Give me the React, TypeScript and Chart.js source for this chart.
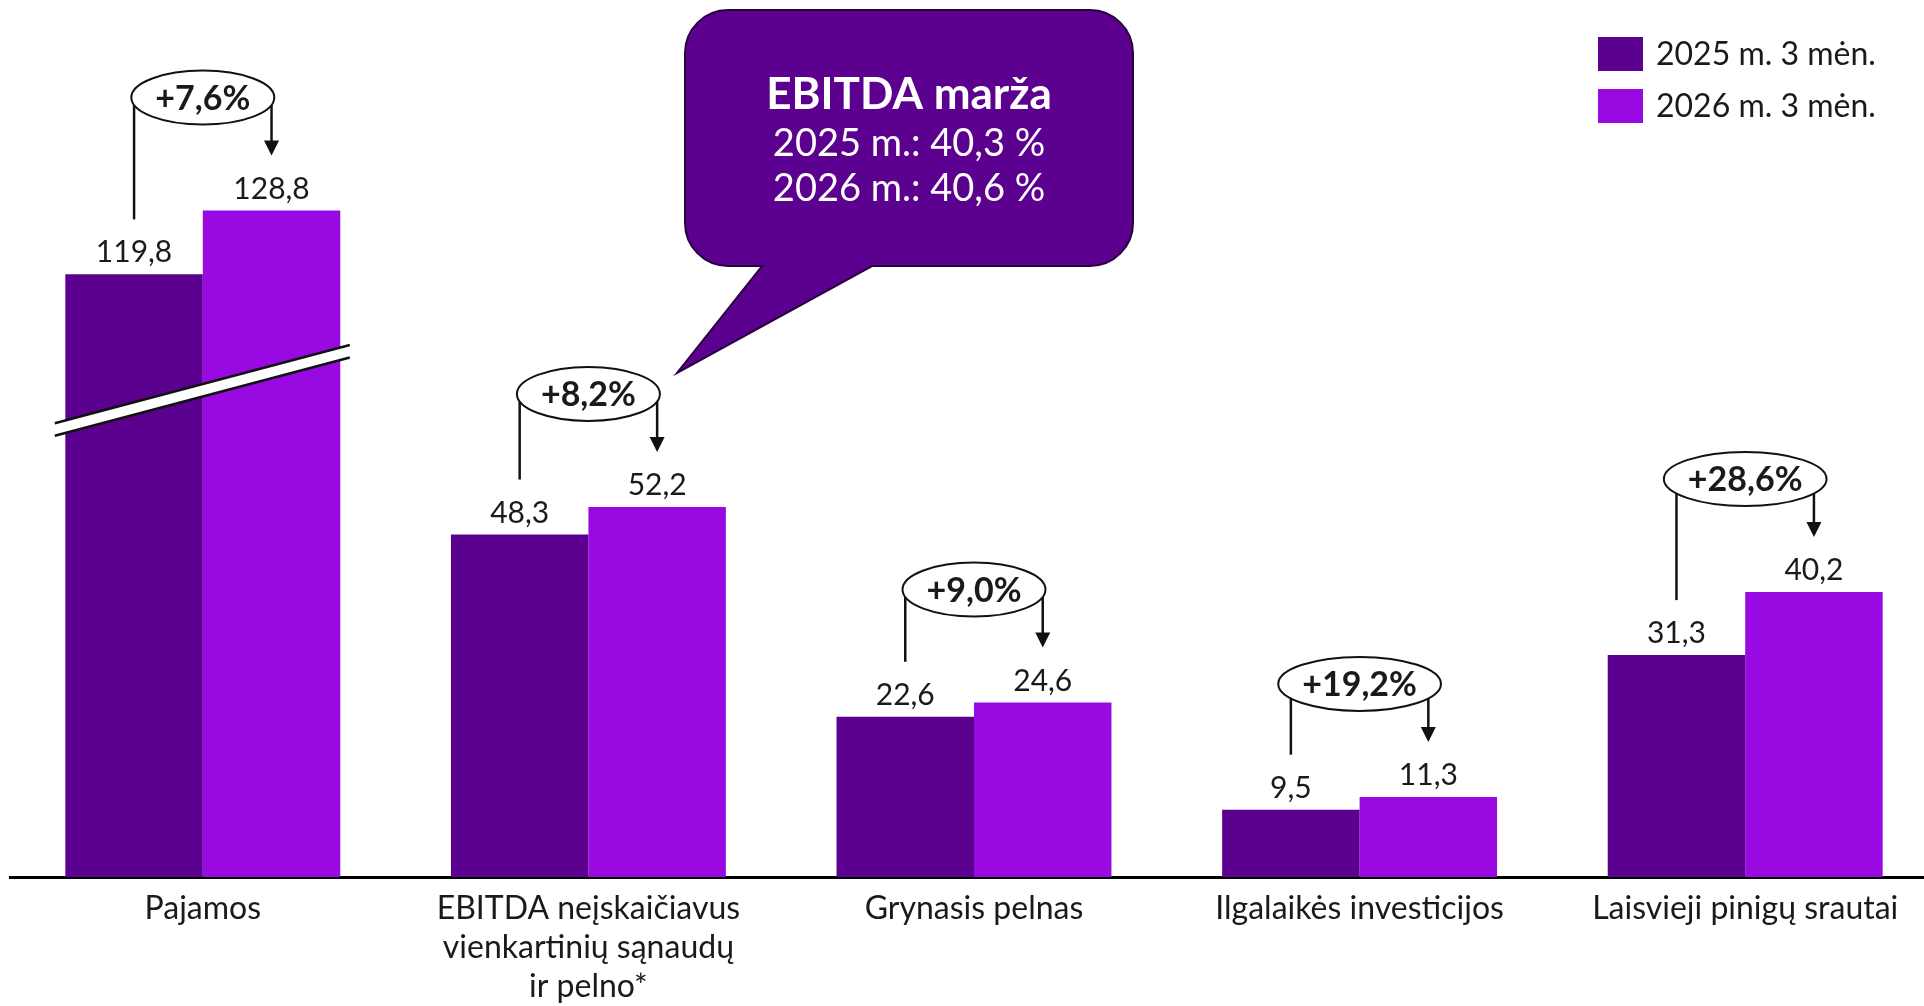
import React, { useEffect, useRef } from "react";
import { Chart, registerables } from "chart.js";

Chart.register(...registerables);

const categories: string[][] = [
  ["Pajamos"],
  ["EBITDA neįskaičiavus", "vienkartinių sąnaudų", "ir pelno*"],
  ["Grynasis pelnas"],
  ["Ilgalaikės investicijos"],
  ["Laisvieji pinigų srautai"],
];
const seriesNames = ["2025 m. 3 mėn.", "2026 m. 3 mėn."];
const series2025 = [119.8, 48.3, 22.6, 9.5, 31.3];
const series2026 = [128.8, 52.2, 24.6, 11.3, 40.2];
const changeLabels = ["+7,6%", "+8,2%", "+9,0%", "+19,2%", "+28,6%"];
const brokenCategory = 0;
const breakOffset = 34.8;
const calloutTitle = "EBITDA marža";
const calloutLines = ["2025 m.: 40,3 %", "2026 m.: 40,6 %"];

const DARK = "#5B008F";
const LIGHT = "#990AE3";
const TEXT = "#1a1a1a";
const FONT = "Lato";

const plotValues = (arr: number[]) =>
  arr.map((v, i) => (i === brokenCategory ? v - breakOffset : v));
const fmt = (v: number) => v.toFixed(1).replace(".", ",");

const overlayPlugin = {
  id: "overlay",
  afterDatasetsDraw(chart: any) {
    const ctx: CanvasRenderingContext2D = chart.ctx;
    const xScale = chart.scales.x;
    const m0 = chart.getDatasetMeta(0).data;
    const m1 = chart.getDatasetMeta(1).data;
    ctx.save();

    // axis break band on the broken category
    {
      const cx = xScale.getPixelForValue(brokenCategory);
      const x1 = cx - 148;
      const x2 = cx + 147;
      const slope = -0.265;
      const cy = 384;
      const gap = 12.5;
      const yAt = (x: number, off: number) => cy + off + slope * (x - cx);
      ctx.beginPath();
      ctx.moveTo(x1, yAt(x1, 0));
      ctx.lineTo(x2, yAt(x2, 0));
      ctx.lineTo(x2, yAt(x2, gap));
      ctx.lineTo(x1, yAt(x1, gap));
      ctx.closePath();
      ctx.fillStyle = "#ffffff";
      ctx.fill();
      ctx.strokeStyle = "#111";
      ctx.lineWidth = 2.5;
      ctx.beginPath();
      ctx.moveTo(x1, yAt(x1, 0));
      ctx.lineTo(x2, yAt(x2, 0));
      ctx.moveTo(x1, yAt(x1, gap));
      ctx.lineTo(x2, yAt(x2, gap));
      ctx.stroke();
    }

    // value labels
    ctx.fillStyle = TEXT;
    ctx.textAlign = "center";
    ctx.textBaseline = "alphabetic";
    ctx.font = `30px ${FONT}`;
    [series2025, series2026].forEach((ser, d) => {
      const meta = d === 0 ? m0 : m1;
      ser.forEach((v, i) => {
        const b = meta[i];
        ctx.fillText(fmt(v), b.x, b.y - 12);
      });
    });

    // change annotations
    changeLabels.forEach((lab, i) => {
      const a = m0[i];
      const b = m1[i];
      const cx = (a.x + b.x) / 2;
      const cy = b.y - 113;
      ctx.font = `bold 34px ${FONT}`;
      const tw = ctx.measureText(lab).width;
      const rx = Math.max(tw / 2 + 24, (b.x - a.x) / 2);
      const ry = 27;
      const edgeY = (x: number) => {
        const dx = Math.abs(x - cx);
        if (dx >= rx) return cy;
        return cy + ry * Math.sqrt(1 - (dx / rx) * (dx / rx));
      };
      ctx.strokeStyle = "#111";
      ctx.lineWidth = 2.5;
      ctx.beginPath();
      ctx.moveTo(a.x, edgeY(a.x));
      ctx.lineTo(a.x, a.y - 55);
      ctx.stroke();
      const tip = b.y - 55;
      ctx.beginPath();
      ctx.moveTo(b.x, edgeY(b.x));
      ctx.lineTo(b.x, tip - 12);
      ctx.stroke();
      ctx.fillStyle = "#111";
      ctx.beginPath();
      ctx.moveTo(b.x - 7.5, tip - 15);
      ctx.lineTo(b.x + 7.5, tip - 15);
      ctx.lineTo(b.x, tip);
      ctx.closePath();
      ctx.fill();
      ctx.beginPath();
      ctx.ellipse(cx, cy, rx, ry, 0, 0, Math.PI * 2);
      ctx.fillStyle = "#ffffff";
      ctx.fill();
      ctx.lineWidth = 2;
      ctx.stroke();
      ctx.fillStyle = TEXT;
      ctx.textAlign = "center";
      ctx.textBaseline = "middle";
      ctx.fillText(lab, cx, cy + 1);
    });

    // category labels
    ctx.font = `32px ${FONT}`;
    ctx.fillStyle = TEXT;
    ctx.textAlign = "center";
    ctx.textBaseline = "alphabetic";
    categories.forEach((lines, i) => {
      const x = xScale.getPixelForValue(i);
      lines.forEach((ln, k) => {
        ctx.fillText(ln, x, 919 + k * 39);
      });
    });

    // callout bubble
    {
      const L = 685, T = 10, R = 1133, B = 266, r = 43;
      const t1 = 762, t2 = 872, ax = 677, ay = 373;
      ctx.beginPath();
      ctx.moveTo(L + r, T);
      ctx.lineTo(R - r, T);
      ctx.arcTo(R, T, R, T + r, r);
      ctx.lineTo(R, B - r);
      ctx.arcTo(R, B, R - r, B, r);
      ctx.lineTo(t2, B);
      ctx.lineTo(ax, ay);
      ctx.lineTo(t1, B);
      ctx.lineTo(L + r, B);
      ctx.arcTo(L, B, L, B - r, r);
      ctx.lineTo(L, T + r);
      ctx.arcTo(L, T, L + r, T, r);
      ctx.closePath();
      ctx.fillStyle = DARK;
      ctx.fill();
      ctx.strokeStyle = "#2a003f";
      ctx.lineWidth = 2;
      ctx.stroke();
      const mx = (L + R) / 2;
      ctx.fillStyle = "#ffffff";
      ctx.textAlign = "center";
      ctx.textBaseline = "alphabetic";
      ctx.font = `bold 44px ${FONT}`;
      ctx.fillText(calloutTitle, mx, 109);
      ctx.font = `38px ${FONT}`;
      calloutLines.forEach((ln, k) => ctx.fillText(ln, mx, 156 + k * 45));
    }

    // legend
    {
      const colors = [DARK, LIGHT];
      ctx.font = `32px ${FONT}`;
      ctx.textAlign = "left";
      ctx.textBaseline = "middle";
      seriesNames.forEach((name, k) => {
        const y = 37 + k * 52;
        ctx.fillStyle = colors[k];
        ctx.fillRect(1598, y, 45, 34);
        ctx.fillStyle = TEXT;
        ctx.fillText(name, 1656, y + 18);
      });
    }

    ctx.restore();
  },
};

export default function App() {
  const ref = useRef<HTMLCanvasElement | null>(null);
  useEffect(() => {
    if (!ref.current) return;
    const chart = new Chart(ref.current, {
      type: "bar",
      data: {
        labels: categories,
        datasets: [
          {
            label: seriesNames[0],
            data: plotValues(series2025),
            backgroundColor: DARK,
            barPercentage: 1,
            categoryPercentage: 0.713,
          },
          {
            label: seriesNames[1],
            data: plotValues(series2026),
            backgroundColor: LIGHT,
            barPercentage: 1,
            categoryPercentage: 0.713,
          },
        ],
      },
      options: {
        responsive: false,
        animation: false,
        layout: { padding: { top: 0, bottom: 129, left: 10, right: 10 } },
        scales: {
          x: {
            type: "category",
            offset: true,
            z: 1,
            grid: { display: false, drawTicks: false, tickLength: 0 },
            border: { display: true, color: "#000", width: 3 },
            ticks: { display: false },
            afterFit: (s: any) => {
              s.height = 0;
            },
          },
          y: { display: false, min: 0, max: 123.7 },
        },
        plugins: {
          legend: { display: false },
          tooltip: { enabled: false },
        },
      } as any,
      plugins: [overlayPlugin],
    });
    if ((document as any).fonts?.ready) {
      (document as any).fonts.ready.then(() => chart.update());
    }
    return () => chart.destroy();
  }, []);
  return (
    <div
      style={{
        position: "absolute",
        left: 0,
        top: 0,
        width: 1924,
        height: 1006,
        overflow: "hidden",
        background: "#fff",
      }}
    >
      <canvas ref={ref} width={1948} height={1006} style={{ display: "block" }} />
    </div>
  );
}
